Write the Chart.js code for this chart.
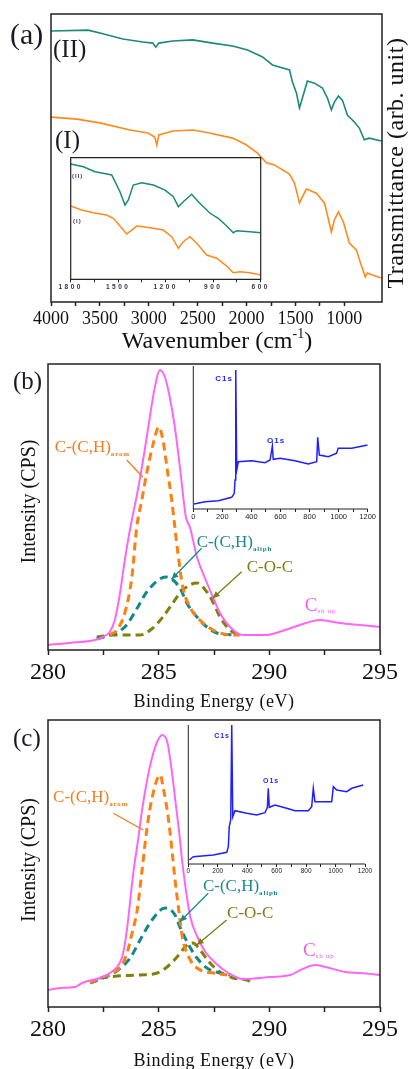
<!DOCTYPE html>
<html><head><meta charset="utf-8">
<script src="https://cdn.jsdelivr.net/npm/chart.js@4.4.1/dist/chart.umd.min.js"></script>
<style>
html,body{margin:0;padding:0;background:#fff;}
#wrap{position:relative;width:409px;height:1069px;overflow:hidden;background:#fff;}
canvas{position:absolute;}
</style></head><body>
<div id="wrap">
<canvas id="cA" width="409" height="355" style="left:0px;top:0px"></canvas>
<canvas id="cAi" width="220" height="145" style="left:55px;top:150px"></canvas>
<canvas id="cB" width="409" height="357" style="left:0px;top:355px"></canvas>
<canvas id="cBi" width="195" height="165" style="left:183px;top:360px"></canvas>
<canvas id="cC" width="409" height="357" style="left:0px;top:712px"></canvas>
<canvas id="cCi" width="200" height="162" style="left:178px;top:719px"></canvas>
</div>
<script>
const SERIF = '"Liberation Serif","Times New Roman",serif';
const SANS = '"Liberation Sans",Arial,sans-serif';

// ---------- Panel (a): FTIR ----------
const ftirWnII = [4000,3622,3500,3265,3061,2959,2929,2898,2755,2551,2347,2143,1990,1837,1735,1561,1531,1490,1459,1429,1378,1306,1224,1173,1133,1102,1061,1020,969,898,847,796,745,622];
const ftirTII  = [94.1,94.4,93.4,91.3,90.3,89.9,88.5,89.9,90.6,91.0,89.9,88.9,87.5,85.1,82.3,80.6,76.4,72.6,67.4,70.8,76.7,76.0,74.3,70.8,66.7,69.4,71.5,70.1,64.9,62.5,60.4,56.3,56.9,55.9];
const ftirWnI  = [4000,3735,3500,3194,3010,2939,2918,2898,2755,2551,2378,2143,2000,1888,1796,1714,1663,1561,1510,1459,1429,1388,1286,1204,1173,1133,1102,1061,1010,949,878,827,786,765,714,622];
const ftirTI   = [64.2,63.5,62.2,59.7,58.7,57.3,54.5,58.0,59.4,59.7,58.7,56.9,54.5,51.7,48.3,47.6,46.5,44.4,41.3,34.4,36.5,39.2,37.8,34.4,30.2,24.3,28.5,31.3,27.8,20.5,18.1,12.8,8.7,10.1,9.4,8.3];
// inset (a)
const insWnII = [1800,1720,1647,1596,1541,1520,1489,1457,1436,1405,1352,1278,1204,1152,1120,1089,1036,994,920,868,815,773,752,668,600];
const insTII  = [94.8,92.6,88.5,87.2,85.8,80.3,72.0,61.1,65.2,77.5,79.4,77.5,73.4,67.9,59.7,63.8,69.9,63.8,54.3,50.2,43.8,38.3,40.0,39.1,38.3];
const insWnI  = [1800,1731,1657,1573,1531,1489,1446,1415,1383,1299,1215,1162,1120,1089,1047,1004,941,878,815,773,731,668,600];
const insTI   = [60.3,57.0,54.8,52.9,50.2,43.8,37.3,40.5,43.8,42.4,40.5,35.0,25.5,30.9,35.0,29.6,20.0,17.3,10.9,5.4,6.3,5.4,3.5];

// ---------- Panel (b): XPS C1s ----------
const bEnvE = [280,280.98,282.11,282.47,282.79,283.02,283.24,283.47,283.70,284.06,284.37,284.60,284.83,285.05,285.28,285.50,285.73,285.96,286.23,286.41,286.73,287.09,287.45,287.77,288.22,288.81,289.80,290.71,291.38,292.29,293.19,294.09,295];
const bEnvI = [5,7,10,13,18,30,55,90,120,160,200,233,263,280,273,253,223,183,133,123,93,72,53,37,23,15,15,20,25,30,27,25,23];
const bAromE = [282.79,283.11,283.47,283.79,284.01,284.24,284.46,284.74,285.01,285.19,285.41,285.59,285.73,285.87,286.09,286.41,286.86,287.45,288.36,288.67];
const bAromI = [15,20,37,73,123,150,177,205,223,210,177,150,123,97,63,43,30,20,15,15];
const bAliphE = [282.20,282.79,283.47,284.06,284.46,285.32,285.96,286.27,286.73,287.18,287.63,288.36];
const bAliphI = [11,15,23,43,58,73,62,47,33,23,17,15];
const bCOCE = [282.20,282.93,284.15,284.74,285.19,285.64,286.09,286.73,287.18,287.45,287.77,288.22,288.67];
const bCOCI = [13,15,15,22,33,47,60,67,58,48,33,20,15];
const bSurvE = [5,80,172,264,282,287,292,299,310,402,493,528,544,550,597,700,791,849,856,867,929,986,997,1090,1200];
const bSurvI = [5,7.3,8.3,11.7,15.7,29,139,39,47.3,48.3,46.3,49,63,49.7,50.7,48.3,45,47.3,71.7,54,52.3,55.7,60.7,60.7,64];

// ---------- Panel (c): XPS C1s ----------
const cEnvE = [280,280.54,281.22,281.54,282.35,282.8,283.12,283.35,283.48,283.62,283.75,283.89,284.07,284.25,284.48,284.71,284.93,285.16,285.39,285.57,285.75,285.93,286.07,286.25,286.43,286.75,287.11,287.56,288.15,288.82,290.04,290.95,291.4,292.08,292.53,293.44,294.12,295];
const cEnvI = [17,19,20,24,29,34,40,50,64,87,114,140,167,197,227,250,265,272,265,240,207,174,144,114,90,70,55,44,34,28,30,32,37,42,40,35,34,32];
const cAromE = [281.9,282.35,282.94,283.39,283.57,283.8,284.03,284.25,284.48,284.71,285.07,285.2,285.43,285.61,285.75,285.89,286.07,286.43,286.88,287.47,288.1];
const cAromI = [24,29,34,44,54,74,97,137,180,210,232,220,190,155,125,100,70,47,37,34,32];
const cAliphE = [281.9,282.8,283.16,283.71,284.16,284.7,285.29,285.74,285.96,286.41,286.73,287.18,287.77,288.22];
const cAliphI = [24,32,37,49,67,87,99,92,80,60,49,39,34,32];
const cCOCE = [282.35,283.12,284.16,284.93,285.38,285.83,286.28,286.55,286.87,287.32,287.77,288.36,288.99,289.26];
const cCOCI = [29,31,32,34,40,50,62,64,57,44,35,29,27,24];
const cSurvE = [7,34,170,261,272,278,288,295,302,317,397,465,521,537,543,550,589,668,725,815,838,849,860,917,974,985,1008,1076,1110,1188];
const cSurvI = [4,7.3,9,11.7,17.3,37.3,44,139,47.3,53.3,50.7,49,51.3,56.7,75.7,56.7,59,55.7,53.3,53.3,57.3,75.7,62.3,62.3,62.3,77.3,74,72.3,75.7,79];

// ---------- colours ----------
const C_GREEN = '#1B8A78', C_ORANGE = '#FF8A1E', C_PINK = '#FF66F5', C_ODASH = '#FF7F10',
      C_TEAL = '#138888', C_OLIVE = '#80800A', C_BLUE = '#1F1FFF', C_AX = '#222';

function pairs(xs, ys) { return xs.map((x, i) => ({x: x, y: ys[i]})); }

function setFont(ctx, s, item) {
  ctx.font = (s.weight || item.weight || 'normal') + ' ' + (s.size || item.size) + 'px ' + (s.family || item.family || SERIF);
  ctx.letterSpacing = ((s.ls !== undefined ? s.ls : (item.ls || 0))) + 'px';
}
function drawRich(ctx, item, x, y) {
  ctx.save();
  ctx.translate(x, y);
  if (item.rot) ctx.rotate(item.rot);
  ctx.fillStyle = item.color || '#111';
  ctx.textBaseline = 'alphabetic';
  ctx.textAlign = 'left';
  const widths = item.segs.map(s => { setFont(ctx, s, item); return ctx.measureText(s.t).width; });
  const total = widths.reduce((a, b) => a + b, 0);
  let cx = item.align === 'center' ? -total / 2 : (item.align === 'right' ? -total : 0);
  item.segs.forEach((s, i) => { setFont(ctx, s, item); ctx.fillText(s.t, cx, s.dy || 0); cx += widths[i]; });
  ctx.restore();
}

function decoPlugin(id, cfg) {
  return {
    id: id,
    beforeDraw(chart) { chart.ctx.letterSpacing = cfg.tickLS || '0px'; },
    afterDatasetsDraw(chart) {
      const ctx = chart.ctx, a = chart.chartArea;
      ctx.save();
      ctx.strokeStyle = C_AX;
      ctx.lineWidth = cfg.frameWidth || 1.5;
      ctx.beginPath();
      if (cfg.frame === 'box') ctx.rect(a.left, a.top, a.right - a.left, a.bottom - a.top);
      else { ctx.moveTo(a.left, a.top); ctx.lineTo(a.left, a.bottom); ctx.lineTo(a.right, a.bottom); }
      ctx.stroke();
      ctx.restore();
    },
    afterDraw(chart) {
      const ctx = chart.ctx, xs = chart.scales.x, ys = chart.scales.y;
      ctx.save();
      ctx.letterSpacing = '0px';
      (cfg.arrows || []).forEach(ar => {
        const x1 = xs.getPixelForValue(ar.from[0]), y1 = ys.getPixelForValue(ar.from[1]);
        const x2 = xs.getPixelForValue(ar.to[0]), y2 = ys.getPixelForValue(ar.to[1]);
        ctx.strokeStyle = ar.color; ctx.fillStyle = ar.color; ctx.lineWidth = 1.3;
        ctx.beginPath(); ctx.moveTo(x1, y1); ctx.lineTo(x2, y2); ctx.stroke();
        if (ar.head) {
          const ang = Math.atan2(y2 - y1, x2 - x1), L = 7, W = 3.2;
          ctx.beginPath(); ctx.moveTo(x2, y2);
          ctx.lineTo(x2 - L * Math.cos(ang) + W * Math.sin(ang), y2 - L * Math.sin(ang) - W * Math.cos(ang));
          ctx.lineTo(x2 - L * Math.cos(ang) - W * Math.sin(ang), y2 - L * Math.sin(ang) + W * Math.cos(ang));
          ctx.closePath(); ctx.fill();
        }
      });
      (cfg.dataTexts || []).forEach(t => drawRich(ctx, t, xs.getPixelForValue(t.x), ys.getPixelForValue(t.y)));
      (cfg.texts || []).forEach(t => drawRich(ctx, t, t.x - (cfg.ox || 0), t.y - (cfg.oy || 0)));
      ctx.restore();
      ctx.letterSpacing = '0px';
    }
  };
}

function lineDs(xs, ys, color, width, extra) {
  return Object.assign({data: pairs(xs, ys), borderColor: color, borderWidth: width, pointRadius: 0, fill: false, tension: 0}, extra || {});
}
const smooth = {cubicInterpolationMode: 'monotone'};
const dashed = {borderDash: [8, 5], borderCapStyle: 'butt', cubicInterpolationMode: 'monotone'};

function xAxis(o) {
  return {
    type: 'linear', min: o.min, max: o.max, reverse: !!o.reverse,
    afterFit: s => { s.height = o.h; },
    afterBuildTicks: s => { s.ticks = s.ticks.filter(t => Math.abs(t.value / o.step - Math.round(t.value / o.step)) < 1e-6); },
    border: {display: false},
    grid: {drawOnChartArea: false, drawTicks: true, tickLength: o.tl, tickColor: C_AX, tickWidth: o.tw || 1.5},
    ticks: {stepSize: o.step, autoSkip: false, maxRotation: 0, minRotation: 0, padding: o.pad, color: o.color || '#111',
            font: {family: o.family || SERIF, size: o.size, weight: o.weight || 'normal'},
            callback: v => (Math.abs(v % o.label) < 1e-6 && (o.labelMin === undefined || v >= o.labelMin)) ? String(v) : ''}
  };
}
function opts(padding, x, ymin, ymax) {
  return {
    responsive: false, animation: false, events: [],
    layout: {padding: padding},
    plugins: {legend: {display: false}, tooltip: {enabled: false}, title: {display: false}},
    scales: {x: x, y: {type: 'linear', display: false, min: ymin, max: ymax}}
  };
}

// ---------- Chart (a) ----------
new Chart(document.getElementById('cA'), {
  type: 'line',
  data: {datasets: [lineDs(ftirWnII, ftirTII, C_GREEN, 1.6), lineDs(ftirWnI, ftirTI, C_ORANGE, 1.6)]},
  options: opts({left: 51, top: 14, right: 27, bottom: 0},
    xAxis({min: 615, max: 4000, reverse: true, h: 53, step: 250, label: 500, labelMin: 1000, tl: 4, pad: 2, size: 18}), 0, 100),
  plugins: [decoPlugin('decoA', {frame: 'box', ox: 0, oy: 0, texts: [
    {segs: [{t: '(a)'}], x: 10, y: 44, size: 30, color: '#1a1a24'},
    {segs: [{t: '(II)'}], x: 53, y: 57, size: 25, color: '#1a1a24'},
    {segs: [{t: '(I)'}], x: 55, y: 148, size: 25, color: '#1a1a24'},
    {segs: [{t: 'Wavenumber (cm'}, {t: '-1', size: 14, dy: -10}, {t: ')'}], x: 217, y: 348, size: 24, align: 'center', color: '#111'},
    {segs: [{t: 'Transmittance (arb. unit)'}], x: 403, y: 163, size: 24, ls: 0.5, align: 'center', rot: -Math.PI / 2, color: '#111'}
  ]})]
});

// inset (a)
new Chart(document.getElementById('cAi'), {
  type: 'line',
  data: {datasets: [lineDs(insWnII, insTII, C_GREEN, 1.5), lineDs(insWnI, insTI, C_ORANGE, 1.5)]},
  options: opts({left: 15.7, top: 7.7, right: 14.3, bottom: 0},
    xAxis({min: 600, max: 1800, reverse: true, h: 15.7, step: 150, label: 300, tl: 3, pad: 1, size: 6.5, family: SANS, weight: 'bold', color: '#334', tw: 1}), 0, 100),
  plugins: [decoPlugin('decoAi', {frame: 'box', frameWidth: 1.2, ox: 55, oy: 150, tickLS: '2.5px', texts: [
    {segs: [{t: '(II)'}], x: 72, y: 178, size: 6, family: SANS, weight: 'bold', ls: 1, color: '#446'},
    {segs: [{t: '(I)'}], x: 73, y: 223, size: 6, family: SANS, weight: 'bold', ls: 1, color: '#446'}
  ]})]
});

// ---------- Chart (b) ----------
const annB = {
  dataTexts: [
    {segs: [{t: 'C-(C,H)'}, {t: 'arom', size: 7, dy: 4, weight: 'bold', ls: 0.8}], x: 280.30, y: 198, size: 17, color: '#F47B20'},
    {segs: [{t: 'C-(C,H)'}, {t: 'aliph', size: 7, dy: 4, weight: 'bold', ls: 0.8}], x: 286.72, y: 103, size: 17, color: '#1A8A8A'},
    {segs: [{t: 'C-O-C'}], x: 288.98, y: 78, size: 17, color: '#7D7D12'},
    {segs: [{t: 'C', size: 19}, {t: 'sh up', size: 7, dy: 2, ls: 0.8}], x: 291.6, y: 39, size: 17, color: '#F45CF0'}
  ],
  arrows: [
    {from: [283.56, 190], to: [284.28, 173], color: '#F47B20', head: false},
    {from: [286.94, 101.7], to: [285.58, 70.7], color: '#1A8A8A', head: true},
    {from: [288.75, 78.3], to: [287.44, 51.7], color: '#7D7D12', head: true}
  ]
};
new Chart(document.getElementById('cB'), {
  type: 'line',
  data: {datasets: [
    lineDs(bEnvE, bEnvI, C_PINK, 2, smooth),
    lineDs(bAromE, bAromI, C_ODASH, 3, dashed),
    lineDs(bAliphE, bAliphI, C_TEAL, 3, dashed),
    lineDs(bCOCE, bCOCI, C_OLIVE, 3, dashed)
  ]},
  options: opts({left: 48, top: 9, right: 29, bottom: 0},
    xAxis({min: 280, max: 295, h: 62, step: 2.5, label: 5, tl: 5, pad: 3, size: 24}), 0, 286),
  plugins: [decoPlugin('decoB', Object.assign({frame: 'box', ox: 0, oy: 355, texts: [
    {segs: [{t: '(b)'}], x: 13, y: 389, size: 25, color: '#1a1a24'},
    {segs: [{t: 'Intensity (CPS)'}], x: 35, y: 501.5, size: 20, align: 'center', rot: -Math.PI / 2, color: '#111'},
    {segs: [{t: 'Binding Energy (eV)'}], x: 214, y: 707, size: 18, ls: 0.5, align: 'center', color: '#111'}
  ]}, annB))]
});

new Chart(document.getElementById('cBi'), {
  type: 'line',
  data: {datasets: [lineDs(bSurvE, bSurvI, C_BLUE, 1.5)]},
  options: opts({left: 10.3, top: 6, right: 10.3, bottom: 0},
    xAxis({min: 0, max: 1200, h: 16, step: 100, label: 200, tl: 3, pad: 0, size: 7.5, family: SANS, color: '#222', tw: 1}), 0, 143),
  plugins: [decoPlugin('decoBi', {frame: 'axes', frameWidth: 1, ox: 183, oy: 360, texts: [
    {segs: [{t: 'C1s'}], x: 233, y: 381, size: 8, family: SANS, weight: 'bold', ls: 1, align: 'right', color: C_BLUE},
    {segs: [{t: 'O1s'}], x: 267, y: 443, size: 8, family: SANS, weight: 'bold', ls: 1, color: C_BLUE}
  ]})]
});

// ---------- Chart (c) ----------
const annC = {
  dataTexts: [
    {segs: [{t: 'C-(C,H)'}, {t: 'arom', size: 7, dy: 4, weight: 'bold', ls: 0.8}], x: 280.23, y: 205, size: 17, color: '#F47B20'},
    {segs: [{t: 'C-(C,H)'}, {t: 'aliph', size: 7, dy: 4, weight: 'bold', ls: 0.8}], x: 287.0, y: 116, size: 17, color: '#1A8A8A'},
    {segs: [{t: 'C-O-C'}], x: 288.09, y: 89, size: 17, color: '#7D7D12'},
    {segs: [{t: 'C', size: 19}, {t: 'sh up', size: 7, dy: 2, ls: 0.8}], x: 291.52, y: 51, size: 17, color: '#F45CF0'}
  ],
  arrows: [
    {from: [282.95, 193.7], to: [284.31, 177], color: '#F47B20', head: false},
    {from: [287.24, 113.7], to: [285.96, 85.3], color: '#1A8A8A', head: true},
    {from: [288.07, 87], to: [286.72, 62], color: '#7D7D12', head: true}
  ]
};
new Chart(document.getElementById('cC'), {
  type: 'line',
  data: {datasets: [
    lineDs(cEnvE, cEnvI, C_PINK, 2, smooth),
    lineDs(cAromE, cAromI, C_ODASH, 3, dashed),
    lineDs(cAliphE, cAliphI, C_TEAL, 3, dashed),
    lineDs(cCOCE, cCOCI, C_OLIVE, 3, dashed)
  ]},
  options: opts({left: 48, top: 8, right: 29, bottom: 0},
    xAxis({min: 280, max: 295, h: 62, step: 2.5, label: 5, tl: 5, pad: 3, size: 24}), 0, 287),
  plugins: [decoPlugin('decoC', Object.assign({frame: 'box', ox: 0, oy: 712, texts: [
    {segs: [{t: '(c)'}], x: 13, y: 746, size: 25, color: '#1a1a24'},
    {segs: [{t: 'Intensity (CPS)'}], x: 35, y: 860, size: 20, align: 'center', rot: -Math.PI / 2, color: '#111'},
    {segs: [{t: 'Binding Energy (eV)'}], x: 214, y: 1066, size: 18, ls: 0.5, align: 'center', color: '#111'}
  ]}, annC))]
});

new Chart(document.getElementById('cCi'), {
  type: 'line',
  data: {datasets: [lineDs(cSurvE, cSurvI, C_BLUE, 1.5)]},
  options: opts({left: 10.3, top: 6, right: 13, bottom: 0},
    xAxis({min: 0, max: 1200, h: 17, step: 100, label: 200, tl: 3, pad: 0, size: 6.5, family: SANS, color: '#222', tw: 1}), 0, 139),
  plugins: [decoPlugin('decoCi', {frame: 'axes', frameWidth: 1, ox: 178, oy: 719, texts: [
    {segs: [{t: 'C1s'}], x: 230, y: 738, size: 7, family: SANS, weight: 'bold', ls: 1, align: 'right', color: C_BLUE},
    {segs: [{t: 'O1s'}], x: 263, y: 783, size: 7, family: SANS, weight: 'bold', ls: 1, color: C_BLUE}
  ]})]
});
</script>
</body></html>
